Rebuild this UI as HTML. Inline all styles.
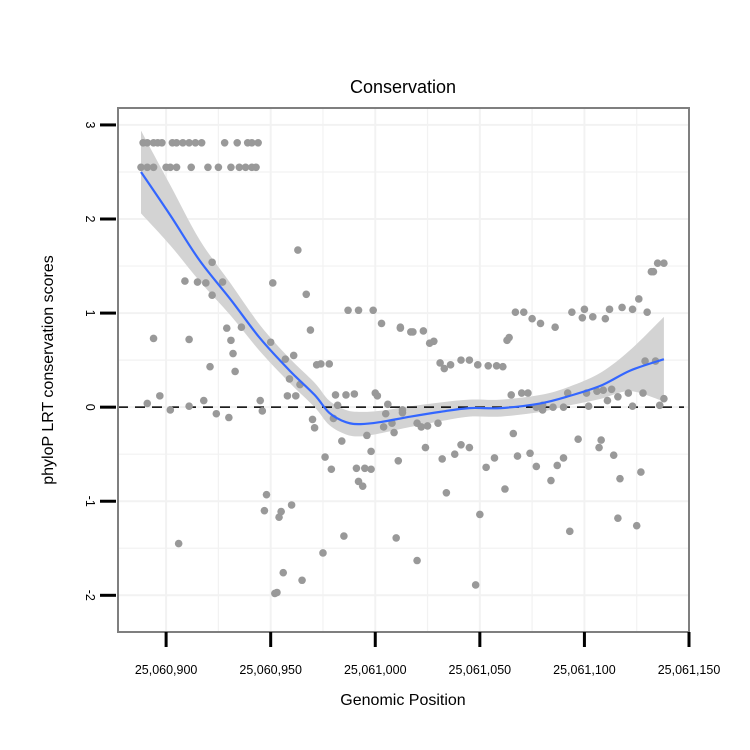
<!DOCTYPE html>
<html><head><meta charset="utf-8"><style>
body{margin:0;background:#fff;width:750px;height:750px;overflow:hidden}
svg{display:block;font-family:"Liberation Sans",sans-serif}
</style></head><body>
<svg id="c" width="750" height="750">
<text x="403" y="93" font-size="18" text-anchor="middle">Conservation</text>
<text x="403" y="705" font-size="16" text-anchor="middle">Genomic Position</text>
<text transform="translate(53,370) rotate(-90)" font-size="16" text-anchor="middle">phyloP LRT conservation scores</text>
</svg>
<script>
const base=25060900;
const xTicks=[25060900,25060950,25061000,25061050,25061100,25061150];
const xTickLabels=["25,060,900","25,060,950","25,061,000","25,061,050","25,061,100","25,061,150"];
const yTicks=[-2,-1,0,1,2,3];
const yTickLabels=["-2","-1","0","1","2","3"];
const rowHighPos=[-11,-9,-6,-4,-2,3,5,8,11,14,17,28,34,39,41,44];
const rowHighScore=2.81;
const rowLowPos=[-12,-9,-6,0,2,5,12,20,25,31,35,38,41,43];
const rowLowScore=2.55;
const pointPos=[63,22,9,15,19,27,22,51,67,69,-6,11,29,36,31,32,50,21,33,61,57,59,64,72,74,78,-9,-3,2,11,18,24,30,45,46,58,62,81,86,90,82,80,70,71,84,100,101,106,105,108,104,109,96,98,111,76,79,91,95,98,92,94,87,92,99,103,112,48,47,55,54,60,6,85,110,75,56,65,52,53,113,
112,117,118,123,126,128,131,133,136,141,145,149,154,158,161,167,171,175,179,186,163,164,194,200,199,204,210,212,218,223,226,230,232,233,235,238,229,234,113,120,125,122,130,165,170,173,177,180,180,185,190,192,201,206,209,213,211,216,221,202,223,228,236,238,124,132,138,141,145,153,157,166,168,174,177,184,187,190,197,208,207,214,227,217,134,162,150,193,216,225,120,148];
const pointScore=[1.67,1.54,1.34,1.33,1.32,1.33,1.19,1.32,1.20,0.82,0.73,0.72,0.84,0.85,0.71,0.57,0.69,0.43,0.38,0.55,0.51,0.30,0.24,0.45,0.46,0.46,0.04,0.12,-0.03,0.01,0.07,-0.07,-0.11,0.07,-0.04,0.12,0.12,0.13,0.13,0.14,0.02,-0.12,-0.13,-0.22,-0.36,0.15,0.12,0.03,-0.07,-0.17,-0.21,-0.27,-0.30,-0.47,-0.57,-0.53,-0.66,-0.65,-0.65,-0.66,-0.79,-0.84,1.03,1.03,1.03,0.89,0.84,-0.93,-1.10,-1.11,-1.17,-1.04,-1.45,-1.37,-1.39,-1.55,-1.76,-1.84,-1.98,-1.97,-0.06,
0.85,0.80,0.80,0.81,0.68,0.70,0.47,0.41,0.45,0.50,0.50,0.45,0.44,0.44,0.43,1.01,1.01,0.94,0.89,0.85,0.71,0.74,1.01,1.04,0.95,0.96,0.94,1.04,1.06,1.04,1.15,1.01,1.44,1.44,1.53,1.53,0.49,0.49,-0.03,-0.17,-0.20,-0.21,-0.17,0.13,0.15,0.15,0.00,0.02,-0.03,0.00,0.00,0.15,0.15,0.17,0.18,0.19,0.07,0.11,0.15,0.01,0.01,0.15,0.02,0.09,-0.43,-0.55,-0.50,-0.40,-0.43,-0.64,-0.54,-0.28,-0.52,-0.49,-0.63,-0.78,-0.62,-0.54,-0.34,-0.35,-0.43,-0.51,-0.69,-0.76,-0.91,-0.87,-1.14,-1.32,-1.18,-1.26,-1.63,-1.89];
const fitPos=[-12,2,16,31,45,59,71,78,86,93,102,117,131,145,160,179,193,208,222,238];
const fitVal=[2.50,2.04,1.56,1.14,0.73,0.39,0.13,-0.06,-0.16,-0.18,-0.16,-0.10,-0.05,-0.01,-0.01,0.04,0.12,0.23,0.39,0.51];
const fitSe=[0.44,0.32,0.22,0.17,0.14,0.13,0.13,0.13,0.13,0.13,0.12,0.11,0.10,0.09,0.09,0.09,0.10,0.14,0.22,0.45];

const PL=118,PR=689,PT=108,PB=632;
const xMin=base-23,xMax=base+250,yMin=-2.39,yMax=3.18;
const X=v=>PL+(v-xMin)/(xMax-xMin)*(PR-PL);
const Y=v=>PB-(v-yMin)/(yMax-yMin)*(PB-PT);
const NS="http://www.w3.org/2000/svg";
const svg=document.getElementById('c');
function mk(t,a,parent){const e=document.createElementNS(NS,t);for(const k in a)e.setAttribute(k,a[k]);(parent||svg).appendChild(e);return e;}
function smoothPath(P,start){let d=start?('M'+P[0][0]+','+P[0][1]):('L'+P[0][0]+','+P[0][1]);
for(let i=0;i<P.length-1;i++){const p0=P[Math.max(i-1,0)],p1=P[i],p2=P[i+1],p3=P[Math.min(i+2,P.length-1)];
const c1=[p1[0]+(p2[0]-p0[0])/6,p1[1]+(p2[1]-p0[1])/6],c2=[p2[0]-(p3[0]-p1[0])/6,p2[1]-(p3[1]-p1[1])/6];
d+=`C${c1[0]},${c1[1]} ${c2[0]},${c2[1]} ${p2[0]},${p2[1]}`;}return d;}

const grid=mk('g',{});


for(let v=25060875;v<=25061150;v+=25){const x=X(v);if(x>PL&&x<PR)mk('line',{x1:x,x2:x,y1:PT,y2:PB,stroke:'#f2f2f2','stroke-width':v%50===0?2:1.2},grid);}
for(let v=-2;v<=3;v+=0.5){const y=Y(v);mk('line',{x1:PL,x2:PR,y1:y,y2:y,stroke:'#f2f2f2','stroke-width':Number.isInteger(v)?2:1.2},grid);}

const upP=fitPos.map((p,i)=>[X(base+p),Y(fitVal[i]+fitSe[i])]);
const loP=fitPos.map((p,i)=>[X(base+p),Y(fitVal[i]-fitSe[i])]).reverse();
const band=mk('path',{d:smoothPath(upP,true)+smoothPath(loP,false)+'Z',fill:'#d3d3d3'});



const zero=mk('line',{x1:PL,x2:PR-5,y1:Y(0),y2:Y(0),stroke:'#000','stroke-width':1.5,'stroke-dasharray':'10,7'});



const pts=mk('g',{fill:'#999'});


function dot(p,s){const c=mk('circle',{cx:X(base+p),cy:Y(s),r:3.8},pts);

}
rowHighPos.forEach(p=>dot(p,rowHighScore));
rowLowPos.forEach(p=>dot(p,rowLowScore));
pointPos.forEach((p,i)=>dot(p,pointScore[i]));

const fitP=fitPos.map((p,i)=>[X(base+p),Y(fitVal[i])]);
const fit=mk('path',{d:smoothPath(fitP,true),fill:'none',stroke:'#3366ff','stroke-width':2.2});



const frame=mk('rect',{x:PL,y:PT,width:PR-PL,height:PB-PT,fill:'none',stroke:'#7f7f7f','stroke-width':2});



xTicks.forEach((v,i)=>{const x=X(v);
const t=mk('line',{x1:x,x2:x,y1:PB,y2:PB+15,stroke:'#000','stroke-width':3});


const l=mk('text',{x:x,y:PB+42,'font-size':12.5,'text-anchor':'middle'});l.textContent=xTickLabels[i];

});
yTicks.forEach((v,i)=>{const y=Y(v);
const t=mk('line',{x1:100,x2:116,y1:y,y2:y,stroke:'#000','stroke-width':3});


const l=mk('text',{transform:`translate(86,${y}) rotate(90)`,'font-size':12.5,'text-anchor':'middle'});l.textContent=yTickLabels[i];

});
</script>
</body></html>
